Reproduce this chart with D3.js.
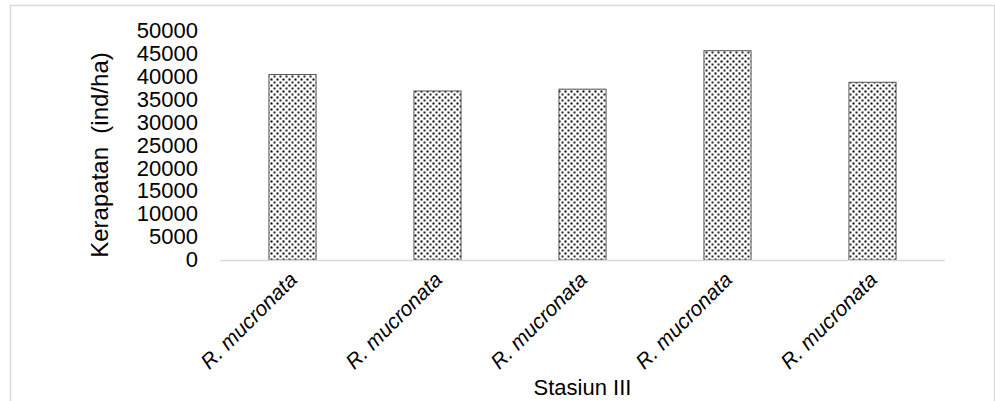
<!DOCTYPE html>
<html>
<head>
<meta charset="utf-8">
<script src="https://cdn.jsdelivr.net/npm/d3@7"></script>
<style>
  html, body { margin: 0; padding: 0; background: #fff; }
  svg { display: block; font-family: "Liberation Sans", Arial, sans-serif; }
</style>
</head>
<body>
<svg id="chart" width="995" height="401"></svg>
<script>
const categories = ["R. mucronata", "R. mucronata", "R. mucronata", "R. mucronata", "R. mucronata"];
const values = [40500, 36900, 37300, 45700, 38800];
const yTicks = [0, 5000, 10000, 15000, 20000, 25000, 30000, 35000, 40000, 45000, 50000];
const yTitle = "Kerapatan  (ind/ha)";
const xTitle = "Stasiun III";

const svg = d3.select("#chart");

// outer border
svg.append("rect").attr("x", 10.5).attr("y", 5.5).attr("width", 984).attr("height", 410)
  .attr("fill", "#fff").attr("stroke", "#d9d9d9").attr("stroke-width", 1.5);

// dot pattern
const defs = svg.append("defs");
const pat = defs.append("pattern").attr("id", "dots").attr("patternUnits", "userSpaceOnUse")
  .attr("width", 6).attr("height", 6);
pat.append("rect").attr("width", 6).attr("height", 6).attr("fill", "#fff");
pat.append("rect").attr("x", 0.5).attr("y", 0.5).attr("width", 2).attr("height", 2).attr("fill", "#000");
pat.append("rect").attr("x", 3.5).attr("y", 3.5).attr("width", 2).attr("height", 2).attr("fill", "#222");

const x0 = 220, x1 = 945;
const x = d3.scaleBand().domain(d3.range(categories.length)).range([x0, x1]).paddingInner(0.675).paddingOuter(0.3375);
const y = d3.scaleLinear().domain([0, 50000]).range([260, 31]);

// bars
svg.append("g").selectAll("rect").data(values).join("rect")
  .attr("x", (d, i) => x(i))
  .attr("y", d => y(d))
  .attr("width", x.bandwidth())
  .attr("height", d => y(0) - y(d))
  .attr("fill", "url(#dots)")
  .attr("stroke", "#555").attr("stroke-width", 1);

// baseline
svg.append("line").attr("x1", x0).attr("x2", x1).attr("y1", y(0) + 0.5).attr("y2", y(0) + 0.5)
  .attr("stroke", "#d9d9d9").attr("stroke-width", 1.5);

// y axis labels
const yAxis = d3.axisLeft(y).tickValues(yTicks).tickSize(0).tickPadding(0).tickFormat(d3.format("d"));
const gy = svg.append("g").attr("transform", "translate(198,0)").call(yAxis);
gy.select(".domain").remove();
gy.selectAll("text").attr("font-size", 22).attr("fill", "#000")
  .attr("font-family", "Liberation Sans, Arial, sans-serif").attr("dy", "0.3em");

// x labels
const gx = svg.append("g");
gx.selectAll("text").data(categories).join("text")
  .attr("transform", (d, i) => `translate(${x(i) + x.bandwidth() / 2 + 6},${281}) rotate(-45)`)
  .attr("text-anchor", "end")
  .attr("font-size", 21)
  .attr("font-style", "italic")
  .attr("fill", "#000")
  .text(d => d);

// y title
svg.append("text")
  .attr("transform", "translate(108,155) rotate(-90)")
  .attr("text-anchor", "middle")
  .attr("font-size", 24)
  .attr("fill", "#000")
  .attr("xml:space", "preserve")
  .style("white-space", "pre")
  .text(yTitle);

// x title
svg.append("text")
  .attr("x", (x0 + x1) / 2).attr("y", 395)
  .attr("text-anchor", "middle")
  .attr("font-size", 22)
  .attr("fill", "#000")
  .text(xTitle);
</script>
</body>
</html>
